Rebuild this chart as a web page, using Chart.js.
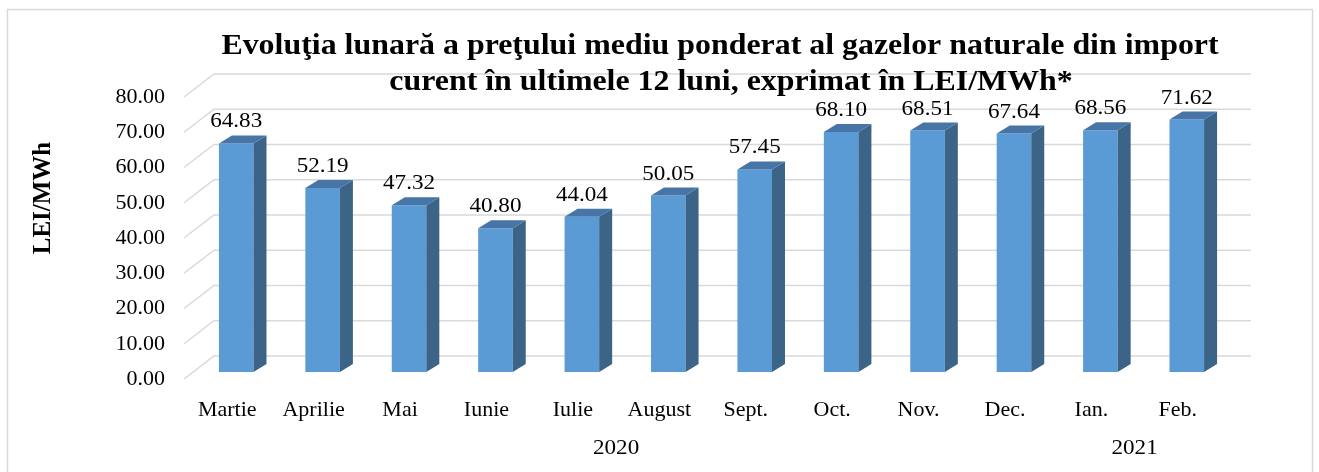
<!DOCTYPE html>
<html>
<head>
<meta charset="utf-8">
<script src="https://cdn.jsdelivr.net/npm/chart.js@4"></script>
<style>
  body { margin: 0; background: #fff; }
  #wrap { width: 1319px; height: 472px; position: relative; }
</style>
</head>
<body>
<div id="wrap"><canvas id="chart"></canvas></div>
<script>
// date
var months = ['Martie', 'Aprilie', 'Mai', 'Iunie', 'Iulie', 'August', 'Sept.', 'Oct.', 'Nov.', 'Dec.', 'Ian.', 'Feb.'];
var prices = [64.83, 52.19, 47.32, 40.80, 44.04, 50.05, 57.45, 68.10, 68.51, 67.64, 68.56, 71.62];
var yearLabels = ['2020', '2021'];
var yearFirst = [0, 10];
var yearLast = [9, 11];
var titleLines = ['Evoluţia lunară a preţului mediu ponderat al gazelor naturale din import',
                  'curent în ultimele 12 luni, exprimat în LEI/MWh*'];
var yTitle = 'LEI/MWh';
var yMin = 0, yMax = 80, yStep = 10;

var SERIF = '"Liberation Serif", "Times New Roman", serif';

// text intins putin pe orizontala, ca in original
function wideText(ctx, txt, x, y, sx) {
    ctx.save();
    ctx.translate(x, y);
    ctx.scale(sx, 1);
    ctx.fillText(txt, 0, 0);
    ctx.restore();
}

// efect 3D: fata de sus / laterala, perete spate, podea
var plugin3d = {
    id: 'fake3d',
    beforeDraw: function (chart) {
        var ctx = chart.ctx;
        ctx.save();
        ctx.fillStyle = '#fff';
        ctx.fillRect(0, 0, chart.width, chart.height);
        ctx.strokeStyle = '#d9d9d9';
        ctx.lineWidth = 1.5;
        ctx.strokeRect(7.5, 9.5, 1305, 470);
        ctx.restore();
    },
    beforeDatasetsDraw: function (chart) {
        var ctx = chart.ctx, y = chart.scales.y, area = chart.chartArea;
        ctx.save();
        ctx.strokeStyle = '#d9d9d9';
        ctx.lineWidth = 1.5;
        for (var v = yMin; v <= yMax; v += yStep) {
            var py = y.getPixelForValue(v);
            ctx.beginPath();
            ctx.moveTo(area.left - 9, py + 7);
            ctx.lineTo(area.left + 21, py - 16);
            ctx.lineTo(area.right + 21, py - 16);
            ctx.stroke();
        }
        ctx.restore();
    },
    afterDatasetsDraw: function (chart) {
        var ctx = chart.ctx;
        var bars = chart.getDatasetMeta(0).data;
        var dx = 13, dy = -8;
        ctx.save();
        bars.forEach(function (b, i) {
            var l = b.x - b.width / 2, r = b.x + b.width / 2, t = b.y, bot = b.base;
            // laterala
            ctx.fillStyle = '#3b6487';
            ctx.beginPath();
            ctx.moveTo(r, bot); ctx.lineTo(r + dx, bot + dy);
            ctx.lineTo(r + dx, t + dy); ctx.lineTo(r, t);
            ctx.closePath(); ctx.fill();
            // sus
            ctx.fillStyle = '#4775a8';
            ctx.beginPath();
            ctx.moveTo(l, t); ctx.lineTo(l + dx, t + dy);
            ctx.lineTo(r + dx, t + dy); ctx.lineTo(r, t);
            ctx.closePath(); ctx.fill();
            // eticheta valoare
            ctx.fillStyle = '#000';
            ctx.font = '21px ' + SERIF;
            ctx.textAlign = 'center';
            ctx.textBaseline = 'alphabetic';
            wideText(ctx, prices[i].toFixed(2), b.x, t - 16, 1.1);
        });
        ctx.restore();
    },
    afterDraw: function (chart) {
        var ctx = chart.ctx, x = chart.scales.x;
        ctx.save();
        ctx.fillStyle = '#000';
        ctx.textAlign = 'center';
        ctx.textBaseline = 'alphabetic';
        // titlu
        ctx.font = 'bold 29px ' + SERIF;
        wideText(ctx, titleLines[0], 720, 54, 1.1);
        wideText(ctx, titleLines[1], 731, 90, 1.1);
        // ani
        var half = (x.getPixelForValue(1) - x.getPixelForValue(0)) / 2;
        ctx.font = '21px ' + SERIF;
        for (var k = 0; k < yearLabels.length; k++) {
            var a = x.getPixelForValue(yearFirst[k]) - half - 9;
            var b = x.getPixelForValue(yearLast[k]) + half - 9;
            wideText(ctx, yearLabels[k], (a + b) / 2, 454, 1.1);
        }
        // titlu axa Y
        ctx.translate(50, 198);
        ctx.rotate(-Math.PI / 2);
        ctx.font = 'bold 25px ' + SERIF;
        ctx.fillText(yTitle, 0, 0);
        ctx.restore();
    }
};

new Chart(document.getElementById('chart'), {
    type: 'bar',
    data: {
        labels: months,
        datasets: [{ data: prices, backgroundColor: '#5b9bd5', borderWidth: 0,
                     barPercentage: 0.4, categoryPercentage: 1 }]
    },
    options: {
        responsive: true, maintainAspectRatio: false, animation: false,
        layout: { padding: { left: 0, right: 89, top: 90, bottom: 0 } },
        plugins: { legend: { display: false }, tooltip: { enabled: false } },
        scales: {
            x: {
                grid: { display: false }, border: { display: false },
                afterFit: function (s) { s.height = 100; },
                ticks: { color: '#000', font: { family: SERIF, size: 22 }, padding: 17,
                         labelOffset: -9, autoSkip: false, maxRotation: 0 }
            },
            y: {
                min: yMin, max: yMax,
                grid: { display: false }, border: { display: false },
                afterFit: function (s) { s.width = 193; },
                ticks: { stepSize: yStep, color: '#000', font: { family: SERIF, size: 22 }, padding: 20,
                         labelOffset: 7, callback: function (v) { return v.toFixed(2); } }
            }
        }
    },
    plugins: [plugin3d]
});
</script>
</body>
</html>
